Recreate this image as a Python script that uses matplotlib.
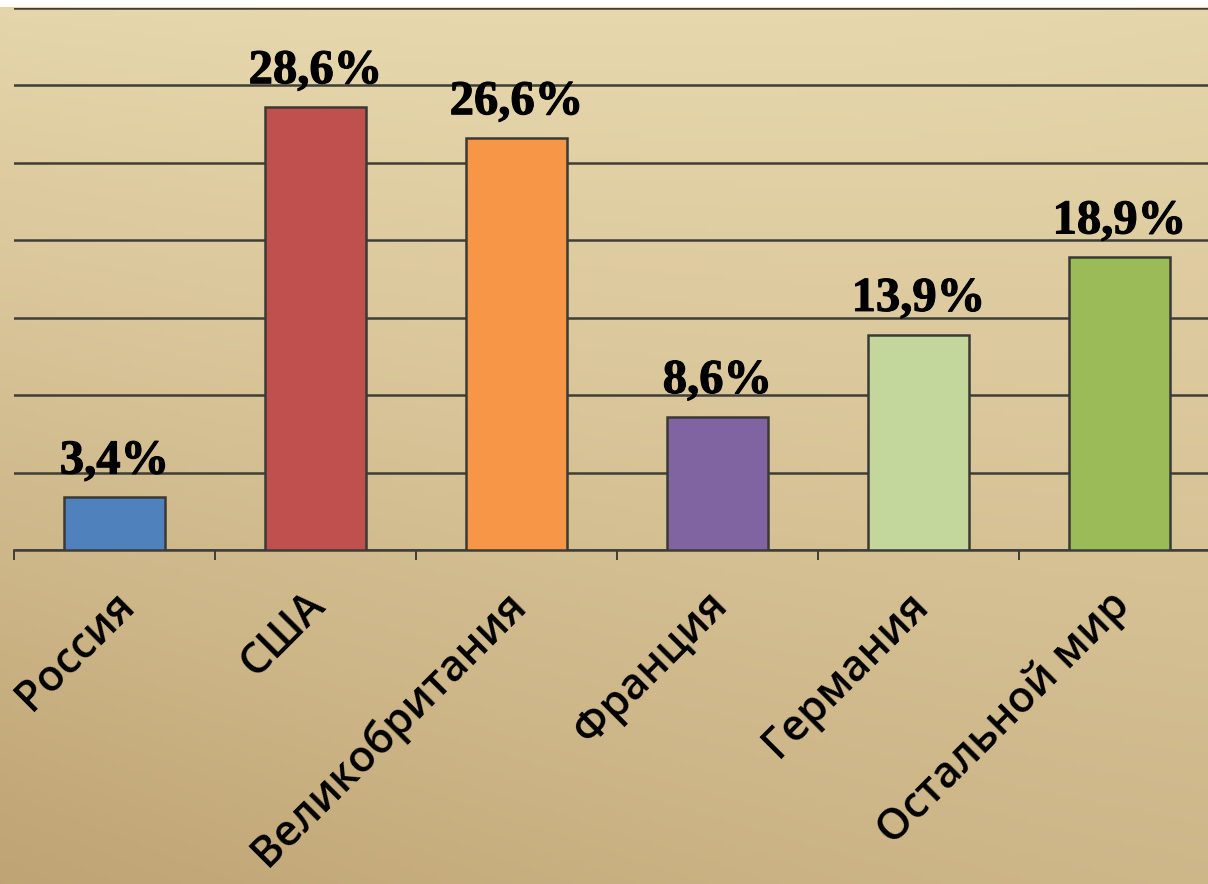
import numpy as np
import matplotlib
matplotlib.use("Agg")
import matplotlib.pyplot as plt
import matplotlib.patheffects as pe

# Data
countries = ["Россия", "США", "Великобритания", "Франция", "Германия", "Остальной мир"]
shares = [3.4, 28.6, 26.6, 8.6, 13.9, 18.9]
labels = ["3,4%", "28,6%", "26,6%", "8,6%", "13,9%", "18,9%"]
colors = ["#4F81BD", "#C0504D", "#F79646", "#8064A2", "#C3D69B", "#9BBB59"]

W, H = 1208, 884
fig = plt.figure(figsize=(W / 100, H / 100), dpi=100, facecolor="white")

# parchment-like background (smooth gradient)
bg = fig.add_axes([0, 0, 1, 1 - 7 / H])
bg.set_axis_off()
yy, xx = np.mgrid[0:1:200j, 0:1:200j]
shade = 0.5 * yy + 0.3 * (1 - xx) * yy + 0.15 * ((xx - 0.5) ** 2) + 0.1
light = np.array([236, 222, 180]) / 255
dark = np.array([188, 160, 112]) / 255
img = light[None, None, :] * (1 - shade[..., None]) + dark[None, None, :] * shade[..., None]
bg.imshow(np.clip(img, 0, 1), aspect="auto", extent=[0, 1, 0, 1], origin="upper")

# chart axes: left edge at 14px, baseline at 550px, top grid (35%) at 8px
left = 14 / W
width = 6 * 201 / W
bottom = (H - 550) / H
height = (550 - 8) / H
ax = fig.add_axes([left, bottom, width, height])
ax.patch.set_alpha(0)

x = np.arange(len(countries))
bars = ax.bar(x, shares, width=0.5, color=colors, edgecolor="#3a3a34",
              linewidth=1.8, zorder=3)

ax.set_xlim(-0.5, len(countries) - 0.5)
ax.set_ylim(0, 35)
ax.set_yticks(np.arange(0, 36, 5))
ax.yaxis.grid(True, color="#3e3e36", linewidth=1.8, zorder=1)
ax.tick_params(axis="y", left=False, labelleft=False)

for side in ["top", "right", "left"]:
    ax.spines[side].set_visible(False)
ax.spines["bottom"].set_color("#3e3e36")
ax.spines["bottom"].set_linewidth(1.8)

# ticks between categories
ax.set_xticks(np.arange(-0.5, len(countries), 1.0), minor=True)
ax.tick_params(axis="x", which="minor", length=7, width=1.4, color="#3e3e36", direction="out")
ax.set_xticks(x)
ax.tick_params(axis="x", which="major", length=0, pad=24)
ax.set_xticklabels(countries, rotation=45, ha="right", va="top",
                   rotation_mode="anchor", fontsize=31,
                   family=["Open Sans", "DejaVu Sans"], fontweight="semibold")
for i, t in enumerate(ax.get_xticklabels()):
    dx = -0.12 if i > 0 else -0.02  # keep the first label inside the figure
    t.set_transform(t.get_transform() + matplotlib.transforms.ScaledTranslation(dx, 0, fig.dpi_scale_trans))

for b, lab in zip(bars, labels):
    ax.annotate(lab, (b.get_x() + b.get_width() / 2, b.get_height()),
                xytext=(0, 10), textcoords="offset points",
                ha="center", va="bottom", fontsize=35, fontweight="bold",
                family=["Liberation Serif", "DejaVu Serif"], color="black", zorder=4,
                path_effects=[pe.withStroke(linewidth=0.8, foreground="black")])

fig.savefig("out.png", dpi=100)
